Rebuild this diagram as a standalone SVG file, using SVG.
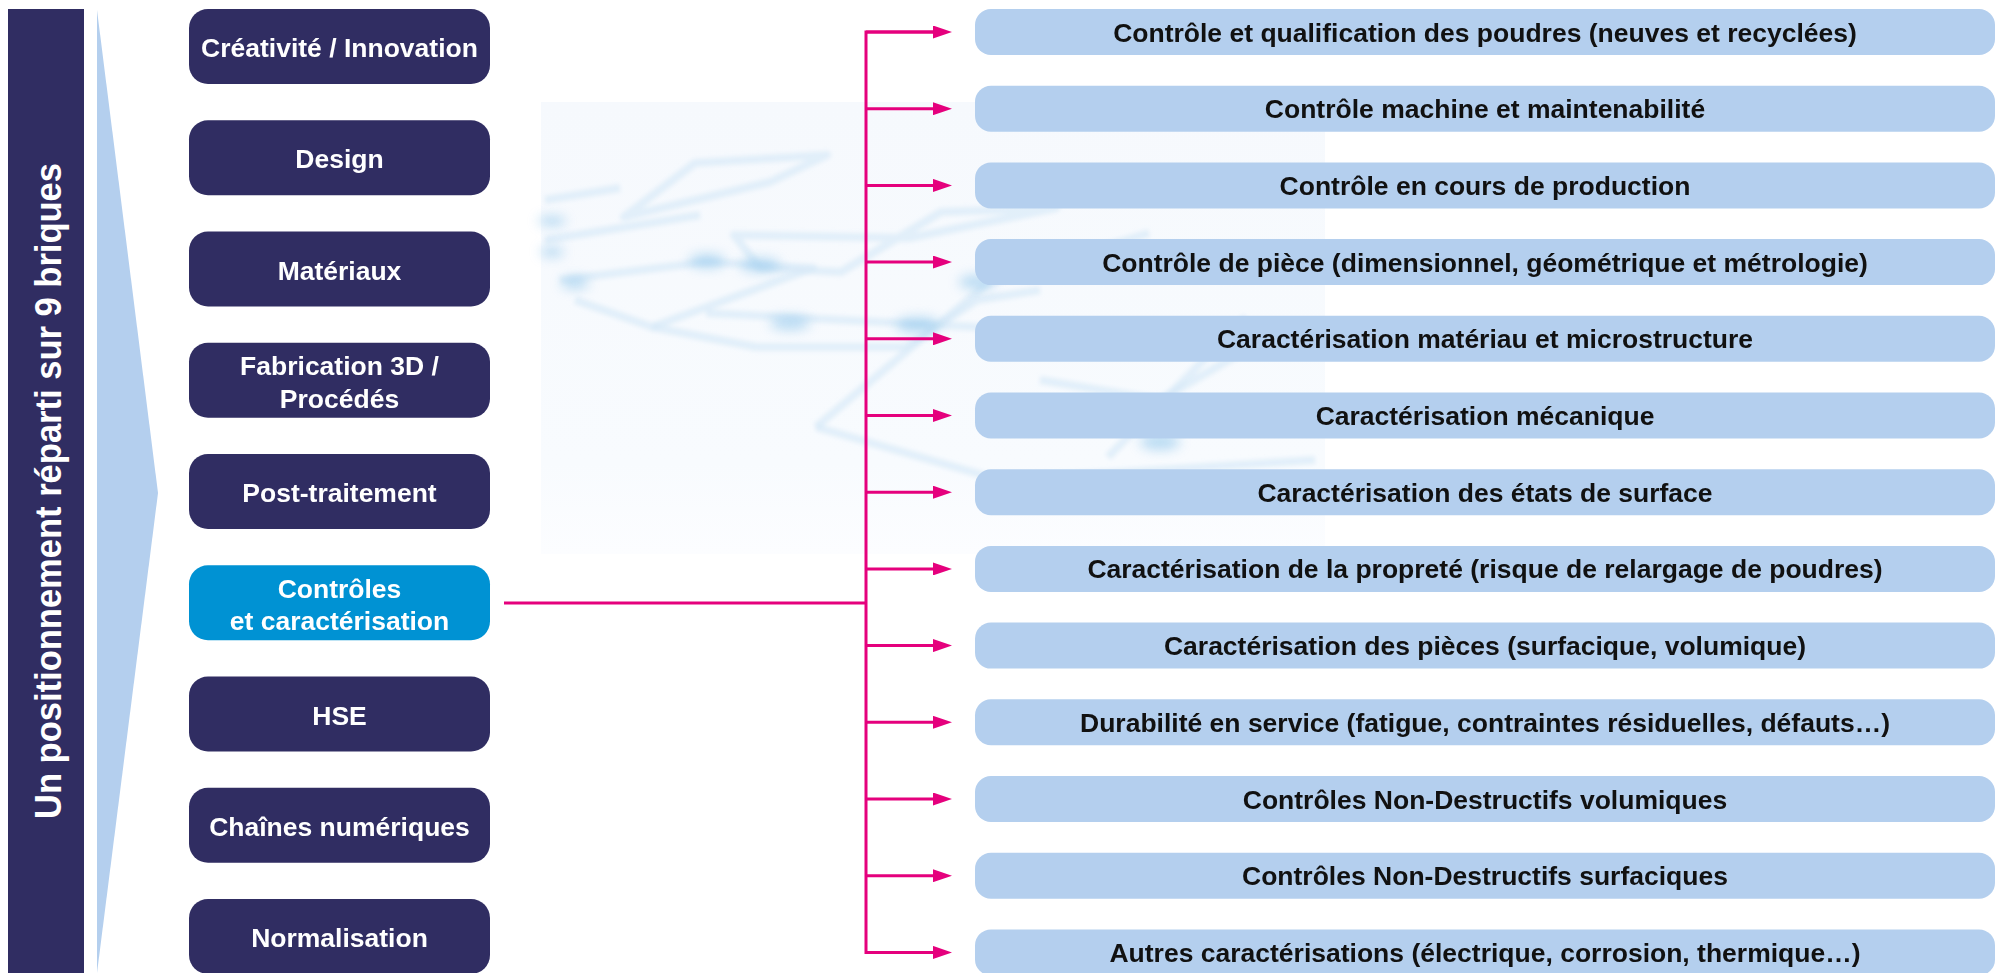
<svg xmlns="http://www.w3.org/2000/svg" width="1997" height="973" viewBox="0 0 1997 973">
  <defs>
    <style>
      .dark { fill: #302d62; }
      .hl { fill: #0092d3; }
      .sub { fill: #b4cfee; }
      .lt { font-family: "Liberation Sans", Arial, sans-serif; font-weight: bold; font-size: 26.5px; fill: #ffffff; text-anchor: middle; }
      .rt { font-family: "Liberation Sans", Arial, sans-serif; font-weight: bold; font-size: 26.5px; fill: #111111; text-anchor: middle; }
      .conn { stroke: #e5007d; stroke-width: 3; fill: none; }
      .bgl { stroke: #d3e7f7; stroke-width: 8; fill: none; stroke-linejoin: round; opacity: 0.6; }
    </style>
    <marker id="arr" markerUnits="userSpaceOnUse" markerWidth="19" markerHeight="13" refX="7" refY="6.5" orient="auto">
      <path d="M0,0 L19,6.5 L0,13 Z" fill="#e5007d"/>
    </marker>
    <linearGradient id="bgfade" x1="0" y1="0" x2="0" y2="1">
      <stop offset="0" stop-color="#f6f9fd"/>
      <stop offset="0.8" stop-color="#f8fbfe"/>
      <stop offset="1" stop-color="#fcfdff"/>
    </linearGradient>
    <filter id="blur2" x="-20%" y="-20%" width="140%" height="140%"><feGaussianBlur stdDeviation="2"/></filter>
    <filter id="blur6" x="-50%" y="-50%" width="200%" height="200%"><feGaussianBlur stdDeviation="6"/></filter>
  </defs>

  <rect width="1997" height="973" fill="#ffffff"/>

  <!-- decorative background -->
  <g id="background">
    <rect x="541" y="102" width="784" height="452" fill="url(#bgfade)"/>
    <g filter="url(#blur2)">
      <path class="bgl" d="M695,163 L827,155 L770,182 L624,217 Z"/>
      <path class="bgl" d="M545,200 L620,188 M545,240 L700,215"/>
      <path class="bgl" d="M734,235 L909,238 L1056,208 L941,212 L841,272 L760,268 Z"/>
      <path class="bgl" d="M560,280 L706,262 L813,268 L652,327 L575,300"/>
      <path class="bgl" d="M652,327 L756,347 L906,347 L977,300 L1040,290"/>
      <path class="bgl" d="M706,313 L977,327 L1100,340"/>
      <path class="bgl" d="M816,427 L988,283 L1149,233"/>
      <path class="bgl" d="M816,427 L1000,480 L1315,460"/>
      <path class="bgl" d="M1108,457 L1246,317"/>
      <path class="bgl" d="M1040,380 L1160,400 L1280,330"/>
    </g>
    <g filter="url(#blur6)" fill="#8fc6ec" opacity="0.6">
      <ellipse cx="552" cy="221" rx="14" ry="5"/>
      <ellipse cx="552" cy="252" rx="12" ry="5"/>
      <ellipse cx="575" cy="283" rx="14" ry="6"/>
      <ellipse cx="707" cy="261" rx="18" ry="7"/>
      <ellipse cx="760" cy="265" rx="20" ry="7"/>
      <ellipse cx="790" cy="323" rx="20" ry="7"/>
      <ellipse cx="918" cy="325" rx="22" ry="8"/>
      <ellipse cx="977" cy="282" rx="18" ry="7"/>
      <ellipse cx="1160" cy="442" rx="20" ry="8"/>
    </g>
  </g>

  <!-- title bar -->
  <g id="title">
    <rect class="dark" x="8" y="9" width="76" height="964"/>
    <text class="lt" style="font-size:36px" transform="translate(61,491) rotate(-90)" x="0" y="0" textLength="656" lengthAdjust="spacingAndGlyphs">Un positionnement réparti sur 9 briques</text>
  </g>

  <!-- chevron -->
  <g id="chevron">
    <polygon points="97,10 158,493 97,973" fill="#b4cfee"/>
  </g>

  <!-- left nodes -->
  <g id="n-creativite"><rect class="dark" x="189" y="9" width="301" height="75" rx="19"/><text class="lt" x="339.5" y="57">Créativité / Innovation</text></g>
  <g id="n-design"><rect class="dark" x="189" y="120.25" width="301" height="75" rx="19"/><text class="lt" x="339.5" y="168.25">Design</text></g>
  <g id="n-materiaux"><rect class="dark" x="189" y="231.5" width="301" height="75" rx="19"/><text class="lt" x="339.5" y="279.5">Matériaux</text></g>
  <g id="n-fabrication"><rect class="dark" x="189" y="342.75" width="301" height="75" rx="19"/><text class="lt" x="339.5" y="375.25">Fabrication 3D /</text><text class="lt" x="339.5" y="407.5">Procédés</text></g>
  <g id="n-post"><rect class="dark" x="189" y="454" width="301" height="75" rx="19"/><text class="lt" x="339.5" y="502">Post-traitement</text></g>
  <g id="n-controles"><rect class="hl" x="189" y="565.25" width="301" height="75" rx="19"/><text class="lt" x="339.5" y="597.75">Contrôles</text><text class="lt" x="339.5" y="630">et caractérisation</text></g>
  <g id="n-hse"><rect class="dark" x="189" y="676.5" width="301" height="75" rx="19"/><text class="lt" x="339.5" y="724.5">HSE</text></g>
  <g id="n-chaines"><rect class="dark" x="189" y="787.75" width="301" height="75" rx="19"/><text class="lt" x="339.5" y="835.75">Chaînes numériques</text></g>
  <g id="n-normalisation"><rect class="dark" x="189" y="899" width="301" height="75" rx="19"/><text class="lt" x="339.5" y="947">Normalisation</text></g>

  <!-- connectors -->
  <g id="connectors">
    <path class="conn" d="M504,603 H866"/>
    <path class="conn" d="M940,32 H866 V952.4 H940"/>
    <path class="conn" d="M866,32 H940" marker-end="url(#arr)"/>
    <path class="conn" d="M866,108.7 H940" marker-end="url(#arr)"/>
    <path class="conn" d="M866,185.4 H940" marker-end="url(#arr)"/>
    <path class="conn" d="M866,262.1 H940" marker-end="url(#arr)"/>
    <path class="conn" d="M866,338.8 H940" marker-end="url(#arr)"/>
    <path class="conn" d="M866,415.5 H940" marker-end="url(#arr)"/>
    <path class="conn" d="M866,492.2 H940" marker-end="url(#arr)"/>
    <path class="conn" d="M866,568.9 H940" marker-end="url(#arr)"/>
    <path class="conn" d="M866,645.6 H940" marker-end="url(#arr)"/>
    <path class="conn" d="M866,722.3 H940" marker-end="url(#arr)"/>
    <path class="conn" d="M866,799 H940" marker-end="url(#arr)"/>
    <path class="conn" d="M866,875.7 H940" marker-end="url(#arr)"/>
    <path class="conn" d="M866,952.4 H940" marker-end="url(#arr)"/>
  </g>

  <!-- right nodes -->
  <g id="r01"><rect class="sub" x="975" y="9" width="1020" height="46" rx="16"/><text class="rt" x="1485" y="41.5">Contrôle et qualification des poudres (neuves et recyclées)</text></g>
  <g id="r02"><rect class="sub" x="975" y="85.7" width="1020" height="46" rx="16"/><text class="rt" x="1485" y="118.2">Contrôle machine et maintenabilité</text></g>
  <g id="r03"><rect class="sub" x="975" y="162.4" width="1020" height="46" rx="16"/><text class="rt" x="1485" y="194.9">Contrôle en cours de production</text></g>
  <g id="r04"><rect class="sub" x="975" y="239.1" width="1020" height="46" rx="16"/><text class="rt" x="1485" y="271.6">Contrôle de pièce (dimensionnel, géométrique et métrologie)</text></g>
  <g id="r05"><rect class="sub" x="975" y="315.8" width="1020" height="46" rx="16"/><text class="rt" x="1485" y="348.3">Caractérisation matériau et microstructure</text></g>
  <g id="r06"><rect class="sub" x="975" y="392.5" width="1020" height="46" rx="16"/><text class="rt" x="1485" y="425">Caractérisation mécanique</text></g>
  <g id="r07"><rect class="sub" x="975" y="469.2" width="1020" height="46" rx="16"/><text class="rt" x="1485" y="501.7">Caractérisation des états de surface</text></g>
  <g id="r08"><rect class="sub" x="975" y="545.9" width="1020" height="46" rx="16"/><text class="rt" x="1485" y="578.4">Caractérisation de la propreté (risque de relargage de poudres)</text></g>
  <g id="r09"><rect class="sub" x="975" y="622.6" width="1020" height="46" rx="16"/><text class="rt" x="1485" y="655.1">Caractérisation des pièces (surfacique, volumique)</text></g>
  <g id="r10"><rect class="sub" x="975" y="699.3" width="1020" height="46" rx="16"/><text class="rt" x="1485" y="731.8">Durabilité en service (fatigue, contraintes résiduelles, défauts…)</text></g>
  <g id="r11"><rect class="sub" x="975" y="776" width="1020" height="46" rx="16"/><text class="rt" x="1485" y="808.5">Contrôles Non-Destructifs volumiques</text></g>
  <g id="r12"><rect class="sub" x="975" y="852.7" width="1020" height="46" rx="16"/><text class="rt" x="1485" y="885.2">Contrôles Non-Destructifs surfaciques</text></g>
  <g id="r13"><rect class="sub" x="975" y="929.4" width="1020" height="46" rx="16"/><text class="rt" x="1485" y="961.9">Autres caractérisations (électrique, corrosion, thermique…)</text></g>
</svg>
